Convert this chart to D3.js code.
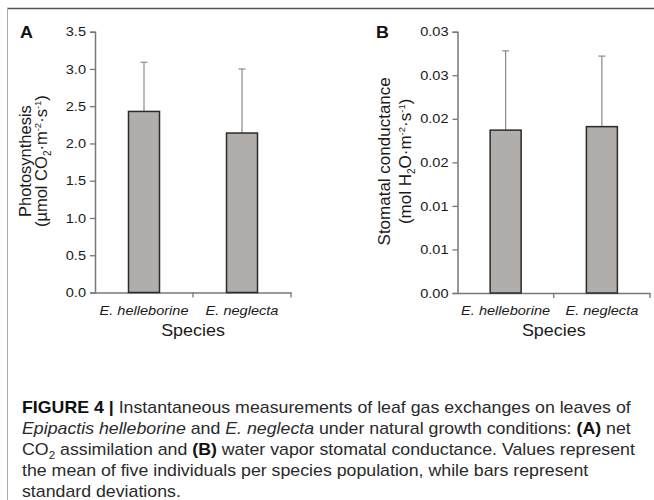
<!DOCTYPE html>
<html><head><meta charset="utf-8">
<script src="https://cdn.jsdelivr.net/npm/d3@7"></script>
<style>
html,body{margin:0;padding:0;background:#fff;}
svg{display:block;font-family:"Liberation Sans",Arial,sans-serif;}
</style></head>
<body><svg id="c" width="654" height="500"></svg>
<script>
const categories = ["E. helleborine", "E. neglecta"];
const photoMean = [2.43, 2.14];
const photoSD = [0.66, 0.86];
const condMean = [0.0187, 0.0191];
const condSD = [0.0091, 0.0081];
const photoTicks = [0, 0.5, 1.0, 1.5, 2.0, 2.5, 3.0, 3.5];
const photoTickLabels = ["0.0", "0.5", "1.0", "1.5", "2.0", "2.5", "3.0", "3.5"];
const condTicks = [0, 0.005, 0.010, 0.015, 0.020, 0.025, 0.030];
const condTickLabels = ["0.00", "0.01", "0.01", "0.02", "0.02", "0.03", "0.03"];

const svg = d3.select("#c");
const SX = 1.12;

// frame
svg.append("line").attr("x1",7).attr("x2",654).attr("y1",8.5).attr("y2",8.5).attr("stroke","#555").attr("stroke-width",1.6);
svg.append("line").attr("x1",7.5).attr("x2",7.5).attr("y1",8).attr("y2",500).attr("stroke","#aaa").attr("stroke-width",1);

function stretchText(sel){
  sel.each(function(){
    const t = d3.select(this);
    const x = +t.attr("x") || 0;
    t.attr("x", x / SX).attr("transform", `scale(${SX},1)`);
  });
}

function panel(opt){
  const g = svg.append("g");
  const x = d3.scaleBand().domain(categories).range(opt.xr).padding(0);
  const y = d3.scaleLinear().domain(opt.yd).range(opt.yr);
  const barW = 31;

  // y axis
  const ya = g.append("g").attr("transform", `translate(${opt.xr[0]},0)`)
    .call(d3.axisLeft(y).tickValues(opt.ticks).tickSize(5).tickPadding(4)
      .tickFormat((d,i)=>opt.tickLabels[i]));
  ya.select(".domain").attr("stroke","#777").attr("stroke-width",1.5);
  ya.selectAll(".tick line").attr("stroke","#777").attr("stroke-width",1.3);
  ya.selectAll(".tick text").attr("font-size",13).attr("fill","#1a1a1a").attr("font-family","Liberation Sans, Arial, sans-serif").call(stretchText);

  // x axis
  const xa = g.append("g").attr("transform", `translate(0,${opt.yr[0]})`)
    .call(d3.axisBottom(x).tickSize(0).tickPadding(13).tickSizeOuter(0));
  xa.select(".domain").attr("stroke","#777").attr("stroke-width",1.5);
  xa.selectAll(".tick text").attr("font-size",13).attr("font-style","italic").attr("fill","#1a1a1a")
    .attr("font-family","Liberation Sans, Arial, sans-serif").call(stretchText);
  // boundary ticks
  const bounds = [x.range()[0] + x.step(), x.range()[1]];
  g.selectAll(".bt").data(bounds).join("line")
    .attr("x1",d=>d).attr("x2",d=>d).attr("y1",opt.yr[0]).attr("y2",opt.yr[0]+5)
    .attr("stroke","#777").attr("stroke-width",1.3);

  // error bars
  const eb = g.selectAll(".eb").data(categories).join("g");
  eb.append("line")
    .attr("x1",d=>x(d)+x.bandwidth()/2).attr("x2",d=>x(d)+x.bandwidth()/2)
    .attr("y1",(d,i)=>y(opt.mean[i])).attr("y2",(d,i)=>y(opt.mean[i]+opt.sd[i]))
    .attr("stroke","#8a8a8a").attr("stroke-width",1.2);
  eb.append("line")
    .attr("x1",d=>x(d)+x.bandwidth()/2-3.5).attr("x2",d=>x(d)+x.bandwidth()/2+3.5)
    .attr("y1",(d,i)=>y(opt.mean[i]+opt.sd[i])).attr("y2",(d,i)=>y(opt.mean[i]+opt.sd[i]))
    .attr("stroke","#8a8a8a").attr("stroke-width",1.2);

  // bars
  g.selectAll(".bar").data(categories).join("rect")
    .attr("x",d=>x(d)+x.bandwidth()/2-barW/2)
    .attr("width",barW)
    .attr("y",(d,i)=>y(opt.mean[i]))
    .attr("height",(d,i)=>y(0)-y(opt.mean[i]))
    .attr("fill","#b1adab").attr("stroke","#2b2b2b").attr("stroke-width",1.5);

  // panel letter
  g.append("text").attr("transform",`translate(${opt.letterX},38) scale(${SX},1)`)
    .attr("font-size",16).attr("font-weight","bold").attr("fill","#111").text(opt.letter);

  // axis title
  const cy = (opt.yr[0]+opt.yr[1])/2 - 1;
  g.append("text").attr("transform",`translate(${opt.t1x},${cy}) rotate(-90)`)
    .attr("text-anchor","middle").attr("font-size",opt.tfs).attr("fill","#1a1a1a").text(opt.title1);
  const t2 = g.append("text").attr("transform",`translate(${opt.t2x},${cy}) rotate(-90)`)
    .attr("text-anchor","middle").attr("font-size",opt.tfs).attr("fill","#1a1a1a");
  opt.title2.forEach(p=>{
    const ts = t2.append("tspan").text(p.t);
    if (p.s==="sub") ts.attr("font-size",10).attr("dy",4);
    else if (p.s==="sup") ts.attr("font-size",9.5).attr("dy",-6);
    else if (p.s==="back") ts.attr("dy", p.dy);
  });

  // Species
  g.append("text").attr("transform",`translate(${(opt.xr[0]+opt.xr[1])/2},336) scale(${SX},1)`)
    .attr("text-anchor","middle").attr("font-size",16).attr("fill","#1a1a1a").text("Species");
}

panel({
  xr:[95,291], yd:[0,3.5], yr:[292.5,31.7], ticks:photoTicks, tickLabels:photoTickLabels,
  mean:photoMean, sd:photoSD, letter:"A", letterX:20, tfs:16.5,
  t1x:31, t2x:47, title1:"Photosynthesis",
  title2:[{t:"(µmol CO"},{t:"2",s:"sub"},{t:"·m",s:"back",dy:-4},{t:"-2",s:"sup"},{t:"·s",s:"back",dy:6},{t:"-1",s:"sup"},{t:")",s:"back",dy:6}]
});
panel({
  xr:[457.5,650], yd:[0,0.03], yr:[293,31.7], ticks:condTicks, tickLabels:condTickLabels,
  mean:condMean, sd:condSD, letter:"B", letterX:376, tfs:17,
  t1x:390, t2x:411, title1:"Stomatal conductance",
  title2:[{t:"(mol H"},{t:"2",s:"sub"},{t:"O·m",s:"back",dy:-4},{t:"-2",s:"sup"},{t:"·s",s:"back",dy:6},{t:"-1",s:"sup"},{t:")",s:"back",dy:6}]
});

// caption
const capLines = [
  [{t:"FIGURE 4 | ",b:1},{t:"Instantaneous measurements of leaf gas exchanges on leaves of"}],
  [{t:"Epipactis helleborine",i:1},{t:" and "},{t:"E. neglecta",i:1},{t:" under natural growth conditions: "},{t:"(A)",b:1},{t:" net"}],
  [{t:"CO"},{t:"2",sub:1},{t:" assimilation and ",back:1},{t:"(B)",b:1},{t:" water vapor stomatal conductance. Values represent"}],
  [{t:"the mean of five individuals per species population, while bars represent"}],
  [{t:"standard deviations."}]
];
const capY = [413, 434, 455, 476, 497];
const cap = svg.append("g");
capLines.forEach((line, li)=>{
  const t = cap.append("text").attr("transform",`translate(22,${capY[li]}) scale(1.11,1)`)
    .attr("font-size",16).attr("fill","#2a2a2a");
  line.forEach(p=>{
    const ts = t.append("tspan").text(p.t);
    if (p.b) ts.attr("font-weight","bold").attr("fill","#111");
    if (p.i) ts.attr("font-style","italic");
    if (p.sub) ts.attr("font-size",10.5).attr("dy",4);
    if (p.back) ts.attr("dy",-4);
  });
});
</script></body></html>
